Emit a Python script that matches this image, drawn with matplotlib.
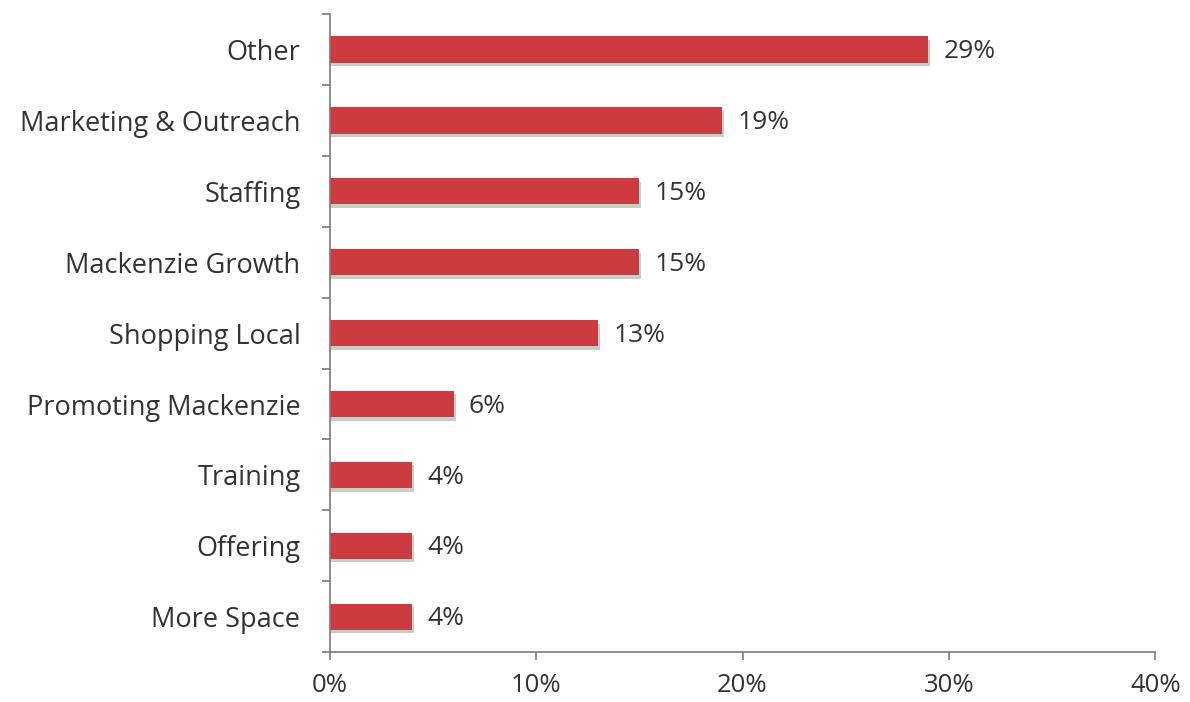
import matplotlib.pyplot as plt
from matplotlib.ticker import FixedLocator

categories = ['Other', 'Marketing & Outreach', 'Staffing', 'Mackenzie Growth',
              'Shopping Local', 'Promoting Mackenzie', 'Training', 'Offering',
              'More Space']
values = [29, 19, 15, 15, 13, 6, 4, 4, 4]
xticks = [0, 10, 20, 30, 40]

plt.rcParams['font.family'] = ['Open Sans', 'DejaVu Sans']

fig = plt.figure(figsize=(11.9, 7.02), dpi=100)
ax = fig.add_axes([0.277, 0.071, 0.694, 0.909])

pos = list(range(len(categories)))
axis_col = '#7a7a7a'
text_col = '#333333'

# soft shadow under each bar, then the bar itself
ax.barh([p + 0.05 for p in pos], [v + 0.1 for v in values], height=0.37,
        color='#c9cdc4', zorder=1)
ax.barh(pos, values, height=0.37, color='#cc3b40', zorder=2)

for p, v in zip(pos, values):
    ax.text(v + 0.75, p + 0.03, f'{v}%', va='center', ha='left',
            fontsize=19, color=text_col)

ax.set_xlim(0, 40)
ax.set_ylim(len(categories) - 0.5, -0.5)

ax.set_xticks(xticks)
ax.set_xticklabels([f'{t}%' for t in xticks])
ax.set_yticks(pos)
ax.set_yticklabels(categories)
ax.yaxis.set_minor_locator(FixedLocator([p - 0.5 for p in pos] + [len(pos) - 0.5]))

ax.tick_params(axis='y', which='major', length=0, pad=21, labelsize=19.5,
               labelcolor=text_col)
ax.tick_params(axis='y', which='minor', length=6, width=1.2, color=axis_col)
ax.tick_params(axis='x', length=6, width=1.2, color=axis_col, pad=9,
               labelsize=18.5, labelcolor=text_col)

for s in ['top', 'right']:
    ax.spines[s].set_visible(False)
for s in ['left', 'bottom']:
    ax.spines[s].set_color(axis_col)
    ax.spines[s].set_linewidth(1.2)

plt.savefig('out.png')
plt.close()
